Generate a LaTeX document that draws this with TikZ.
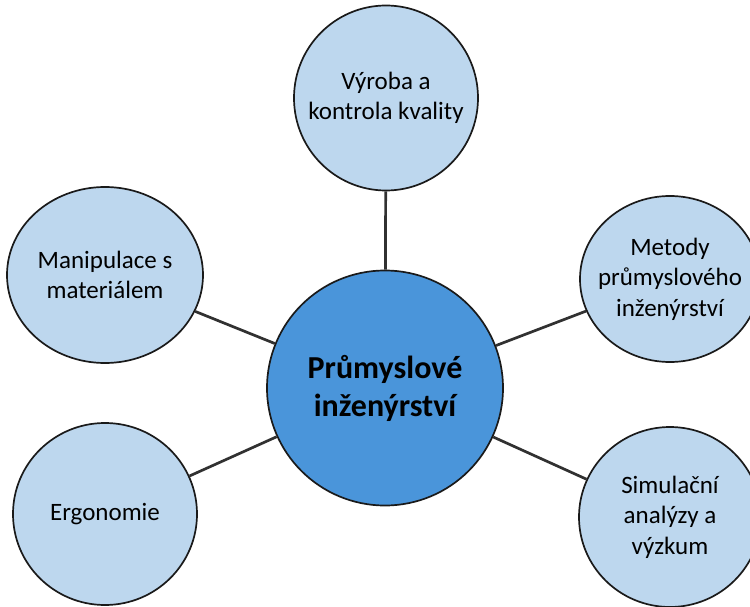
\documentclass[tikz,border=0pt]{standalone}
\usepackage{fontspec}
\setmainfont{Carlito}
\usetikzlibrary{shapes.geometric}
\definecolor{lightblue}{HTML}{BDD7EE}
\definecolor{hubblue}{HTML}{4A95DA}
\definecolor{edgegray}{HTML}{1A1A1A}

\begin{document}
\begin{tikzpicture}[x=1pt,y=-1pt,
  topic/.style={ellipse,draw=edgegray,line width=1.7pt,fill=lightblue,inner sep=0pt},
  topictext/.style={align=center,font=\fontsize{25}{30.5}\selectfont},
  hubtext/.style={align=center,font=\fontsize{32}{38}\selectfont\bfseries},
  link/.style={draw=edgegray!90,line width=2.7pt}]
\useasboundingbox (0,0) rectangle (750,607);
% hub
\node[topic,fill=hubblue,minimum width=236pt,minimum height=235pt,
  label={[hubtext]center:Průmyslové\\inženýrství}] (hub) at (385,388) {};
% topics
\node[topic,minimum width=184pt,minimum height=185pt,
  label={[topictext]center:Výroba a\\kontrola kvality}] (vyroba) at (386,98) {};
\node[topic,minimum width=196pt,minimum height=176pt,
  label={[topictext]center:Manipulace s\\materiálem}] (manip) at (105,275) {};
\node[topic,minimum width=184pt,minimum height=182pt,
  label={[topictext]center:Ergonomie}] (ergo) at (105,514) {};
\node[topic,minimum width=180pt,minimum height=166pt,
  label={[topictext]center:Metody\\průmyslového\\inženýrství}] (metody) at (670,279) {};
\node[topic,minimum width=182pt,minimum height=180pt,
  label={[topictext]center:Simulační\\analýzy a\\výzkum}] (simul) at (670,517) {};
% spokes
\draw[link] (hub) -- (vyroba);
\draw[link] (hub) -- (manip);
\draw[link] (hub) -- (ergo);
\draw[link] (hub) -- (metody);
\draw[link] (hub) -- (simul);
\end{tikzpicture}
\end{document}
